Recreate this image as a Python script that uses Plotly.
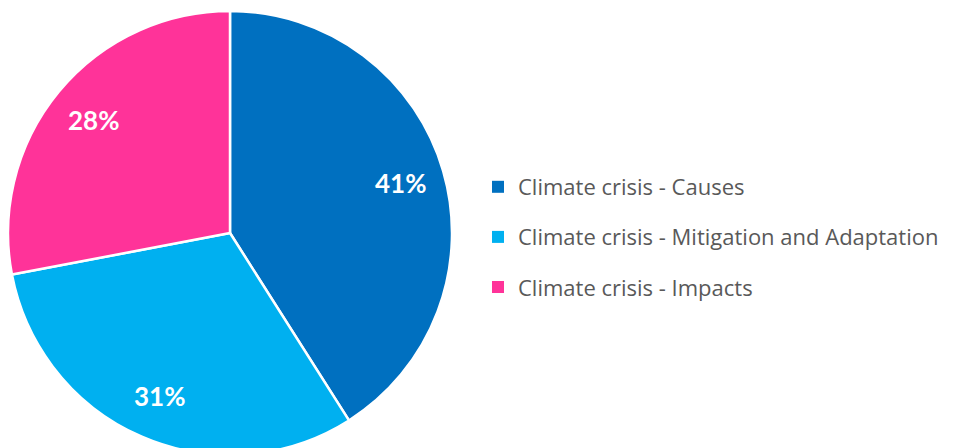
import math
import plotly.graph_objects as go

labels = ["Climate crisis - Causes", "Climate crisis - Mitigation and Adaptation", "Climate crisis - Impacts"]
values = [41, 31, 28]
colors = ["#0070C0", "#00B0F0", "#FF3399"]

W, H = 971, 456
PIE_L, PIE_R, PIE_T, PIE_B = 8, 452, 11, 455  # pie box in pixels

fig = go.Figure()
fig.add_trace(go.Pie(
    labels=labels, values=values, sort=False, direction="clockwise", rotation=0,
    marker=dict(colors=colors, line=dict(color="white", width=2.5)),
    textinfo="none",
    domain=dict(x=[PIE_L / W, PIE_R / W], y=[1 - PIE_B / H, 1 - PIE_T / H]),
    showlegend=False, hoverinfo="label+percent",
))
for i, (lab, col) in enumerate(zip(labels, colors)):
    fig.add_trace(go.Scatter(
        x=[None], y=[None], mode="markers", name=lab,
        marker=dict(symbol="square", size=10, color=col),
        legendgroup=f"g{i}", showlegend=True,
    ))

# percentage labels placed at 0.8 of the radius along each slice's mid-angle
total = sum(values)
cx_px = (PIE_L + PIE_R) / 2
cy_px = (PIE_T + PIE_B) / 2
R = (PIE_R - PIE_L) / 2
cum = 0
for v in values:
    mid = (cum + v / 2) / total * 2 * math.pi
    cum += v
    r = 0.8 * R
    xpx = cx_px + r * math.sin(mid)
    ypx = cy_px - r * math.cos(mid)
    fig.add_annotation(
        x=xpx / W, y=1 - ypx / H, xref="paper", yref="paper",
        text=f"{round(v / total * 100)}%", showarrow=False,
        font=dict(family="Lato", size=26, color="white", weight="bold"),
        xanchor="center", yanchor="middle",
    )

fig.update_layout(
    width=W, height=H, margin=dict(l=0, r=0, t=0, b=0),
    paper_bgcolor="white", plot_bgcolor="white",
    xaxis=dict(visible=False), yaxis=dict(visible=False),
    legend=dict(x=478 / W, xanchor="left", y=1 - 166 / H, yanchor="top",
                font=dict(family="Open Sans", size=22, color="#595959"),
                tracegroupgap=18.5, itemsizing="constant", bgcolor="rgba(0,0,0,0)"),
)
fig.write_html("out.html", config={"displayModeBar": False},
               post_script="document.body.style.margin='0';document.body.style.overflow='hidden';document.documentElement.style.overflow='hidden';")
